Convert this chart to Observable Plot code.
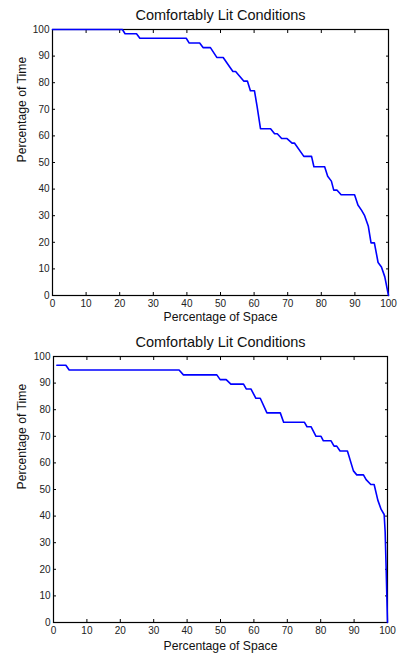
<!DOCTYPE html>
<html>
<head>
<meta charset="utf-8">
<script src="https://cdn.jsdelivr.net/npm/d3@7"></script>
<script src="https://cdn.jsdelivr.net/npm/@observablehq/plot@0.6"></script>
<style>
  html, body { margin: 0; padding: 0; background: #fff; }
  #wrap { position: relative; width: 398px; height: 655px; }
  #wrap svg { display: block; }
</style>
</head>
<body>
<div id="wrap"></div>
<script>
const title = "Comfortably Lit Conditions";
const xLabel = "Percentage of Space";
const yLabel = "Percentage of Time";
const xTicks = [0, 10, 20, 30, 40, 50, 60, 70, 80, 90, 100];
const yTicks = [0, 10, 20, 30, 40, 50, 60, 70, 80, 90, 100];

// Chart 1: percentage of space (x) vs percentage of time (y)
const space1 = [0, 20.8, 21.6, 25, 26, 39.8, 40.7, 43.8, 44.8, 47, 48.9, 50.8, 52.7, 53.7, 54.5, 56.9, 58, 58.9, 60.1, 60.9, 61.9, 64.9, 66.1, 66.9, 68.2, 69.8, 71.3, 72, 74.8, 77.1, 77.8, 81, 81.9, 83, 83.7, 84.7, 85.9, 89.9, 90.9, 92, 92.9, 94, 94.8, 95.8, 96.9, 97.9, 98.9, 100];
const time1  = [100, 100, 98.4, 98.4, 96.7, 96.7, 94.9, 94.9, 93.2, 93.2, 89.5, 89.5, 86, 84.2, 84.2, 80.6, 80.6, 77, 77, 71, 62.7, 62.7, 60.8, 60.8, 59, 59, 57.3, 57.3, 52.3, 52.3, 48.4, 48.4, 44.8, 43, 39.6, 39.6, 37.9, 37.9, 34, 32, 30, 26, 19.8, 19.8, 12.4, 10.7, 7, 0];

// Chart 2
const space2 = [1.0, 3.7, 4.7, 37.6, 38.9, 48.9, 49.9, 51.7, 53.1, 56.9, 57.7, 59.1, 60.6, 61.9, 63.9, 67.9, 68.9, 75.1, 75.9, 77.1, 78.6, 80.1, 80.8, 83.1, 84.0, 84.8, 85.8, 88.0, 89.8, 90.8, 92.8, 93.6, 95.0, 96.0, 97.1, 98.1, 99.0, 99.3, 99.6, 100];
const time2  = [96.7, 96.7, 94.9, 94.9, 93.1, 93.1, 91.3, 91.3, 89.6, 89.6, 87.8, 87.8, 84.3, 84.3, 78.8, 78.8, 75.3, 75.3, 73.6, 73.6, 70.0, 70.0, 68.3, 68.3, 66.3, 66.3, 64.5, 64.5, 57.0, 55.5, 55.5, 53.7, 51.9, 51.9, 46.0, 42.5, 40.6, 34, 20, 0];

const font = "Arial, 'Liberation Sans', Helvetica, sans-serif";

function chart(xs, ys, opts) {
  const data = xs.map((x, i) => ({x, y: ys[i]}));
  return Plot.plot({
    width: 398,
    height: opts.height,
    marginTop: opts.mt,
    marginBottom: opts.mb,
    marginLeft: opts.ml,
    marginRight: opts.mr,
    style: {fontFamily: font, fontSize: "10px", color: "#222", background: "#fff"},
    x: {domain: [0, 100], label: null},
    y: {domain: [0, 100], label: null},
    marks: [
      Plot.axisX({anchor: "bottom", ticks: xTicks, tickSize: -3, tickPadding: 7, tickFormat: d => d, label: null, stroke: "#000"}),
      Plot.axisX({anchor: "top", ticks: xTicks, tickSize: -3, tickFormat: () => "", label: null, stroke: "#000"}),
      Plot.axisY({anchor: "left", ticks: yTicks, tickSize: -3, tickPadding: 6, tickFormat: d => d, label: null, stroke: "#000"}),
      Plot.axisY({anchor: "right", ticks: yTicks, tickSize: -3, tickFormat: () => "", label: null, stroke: "#000"}),
      Plot.frame({stroke: "#000", strokeWidth: 1.2}),
      Plot.line(data, {x: "x", y: "y", stroke: "#0000ff", strokeWidth: 1.6}),
      Plot.text([title], {frameAnchor: "top", lineAnchor: "middle", dy: opts.titleDy, fontSize: 14.5, fill: "#111"}),
      Plot.text([xLabel], {frameAnchor: "bottom", lineAnchor: "middle", dy: opts.xlDy, fontSize: 12.2, fill: "#111"}),
      Plot.text([yLabel], {frameAnchor: "left", lineAnchor: "middle", dx: opts.ylDx, rotate: -90, fontSize: 12.2, fill: "#111"})
    ]
  });
}

const wrap = document.getElementById("wrap");
wrap.appendChild(chart(space1, time1, {height: 327, mt: 29, mb: 32, ml: 52, mr: 10, titleDy: -14, xlDy: 22, ylDx: -30}));
wrap.appendChild(chart(space2, time2, {height: 328, mt: 29, mb: 33, ml: 53, mr: 11, titleDy: -14.3, xlDy: 23.7, ylDx: -31.5}));
</script>
</body>
</html>
